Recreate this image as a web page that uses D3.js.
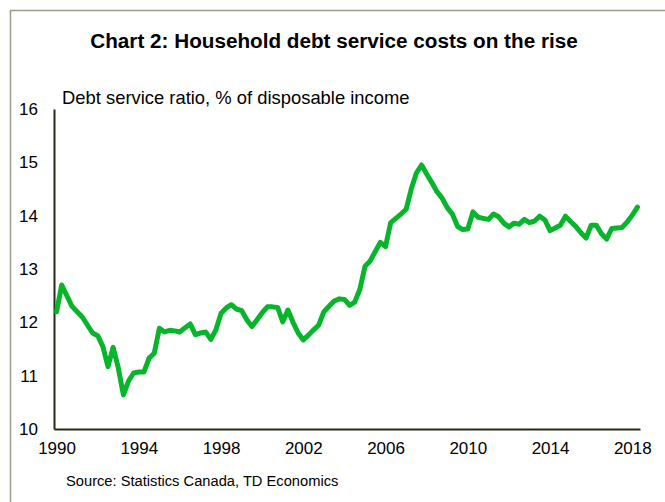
<!DOCTYPE html>
<html>
<head>
<meta charset="utf-8">
<script src="https://cdn.jsdelivr.net/npm/d3@7"></script>
<style>
  html, body { margin: 0; padding: 0; background: #fff; }
  svg { display: block; font-family: "Liberation Sans", Arial, sans-serif; }
</style>
</head>
<body>
<svg id="chart" width="665" height="502"></svg>
<script>
// ---- Data (quarterly, 1990Q1 .. 2018Q2) ----
const startYear = 1990;
const debtServiceRatio = [
  12.2, 12.7, 12.5, 12.3, 12.2, 12.1, 11.95, 11.8, 11.75, 11.55,
  11.17, 11.53, 11.15, 10.64, 10.9, 11.05, 11.07, 11.07, 11.33, 11.42,
  11.89, 11.82, 11.85, 11.84, 11.82, 11.9, 11.97, 11.77, 11.8, 11.82,
  11.68, 11.86, 12.17, 12.27, 12.33, 12.25, 12.22, 12.05, 11.92, 12.05,
  12.18, 12.29, 12.29, 12.28, 12.01, 12.23, 12.0, 11.8, 11.67, 11.76,
  11.86, 11.95, 12.2, 12.3, 12.4, 12.44, 12.43, 12.32, 12.38, 12.62,
  13.05, 13.15, 13.33, 13.5, 13.42, 13.87, 13.95, 14.03, 14.12, 14.5,
  14.8, 14.95, 14.78, 14.62, 14.45, 14.33, 14.15, 14.03, 13.8, 13.74,
  13.75, 14.07, 13.97, 13.95, 13.93, 14.03, 13.98, 13.86, 13.79, 13.86,
  13.84, 13.93, 13.87, 13.9, 13.99, 13.92, 13.72, 13.77, 13.82, 13.99,
  13.89, 13.8, 13.68, 13.58, 13.82, 13.82, 13.66, 13.56, 13.76, 13.77,
  13.78, 13.88, 14.01, 14.16
];
const quarters = debtServiceRatio.map((_, i) => startYear + i / 4);
const xTickYears = [1990, 1994, 1998, 2002, 2006, 2010, 2014, 2018];
const yTicks = [10, 11, 12, 13, 14, 15, 16];

const titleText = "Chart 2: Household debt service costs on the rise";
const subtitleText = "Debt service ratio, % of disposable income";
const sourceText = "Source: Statistics Canada, TD Economics";

// ---- Drawing ----
const svg = d3.select("#chart");
const axisColor = "#262b17";
const lineColor = "#07b52b";

// outer frame
svg.append("path")
  .attr("d", "M10.5,502 L10.5,10.5 L665,10.5")
  .attr("fill", "none")
  .attr("stroke", "#9c9c8c")
  .attr("stroke-width", 1.5);

const x = d3.scaleLinear().domain([1989.875, 2018.375]).range([54, 640]);
const y = d3.scaleLinear().domain([10, 16]).range([429, 109]);

svg.append("text")
  .attr("x", 334).attr("y", 48)
  .attr("text-anchor", "middle")
  .attr("font-size", 20.7).attr("font-weight", "bold")
  .attr("fill", "#000")
  .text(titleText);

svg.append("text")
  .attr("x", 62).attr("y", 104)
  .attr("font-size", 18.4)
  .attr("fill", "#000")
  .text(subtitleText);

svg.append("text")
  .attr("x", 66).attr("y", 486)
  .attr("font-size", 14.7)
  .attr("fill", "#000")
  .text(sourceText);

// y axis
const yAxis = d3.axisLeft(y).tickValues(yTicks).tickSize(0).tickPadding(16).tickFormat(d3.format("d"));
const gy = svg.append("g").attr("transform", "translate(54,0)").call(yAxis);
gy.select(".domain").attr("stroke", axisColor).attr("stroke-width", 2);
gy.selectAll("text").attr("font-size", 17).attr("fill", "#000")
  .attr("font-family", "Liberation Sans, Arial, sans-serif");

// x axis
const xAxis = d3.axisBottom(x).tickValues(xTickYears).tickSize(0).tickPadding(13).tickFormat(d3.format("d"));
const gx = svg.append("g").attr("transform", "translate(0,429)").call(xAxis);
gx.select(".domain").attr("stroke", axisColor).attr("stroke-width", 2);
gx.selectAll("text").attr("font-size", 17).attr("fill", "#000")
  .attr("font-family", "Liberation Sans, Arial, sans-serif");

// line
const line = d3.line()
  .x((d, i) => x(quarters[i]))
  .y(d => y(d))
  .curve(d3.curveLinear);

svg.append("path")
  .datum(debtServiceRatio)
  .attr("d", line)
  .attr("fill", "none")
  .attr("stroke", lineColor)
  .attr("stroke-width", 5)
  .attr("stroke-linejoin", "round")
  .attr("stroke-linecap", "round");
</script>
</body>
</html>
